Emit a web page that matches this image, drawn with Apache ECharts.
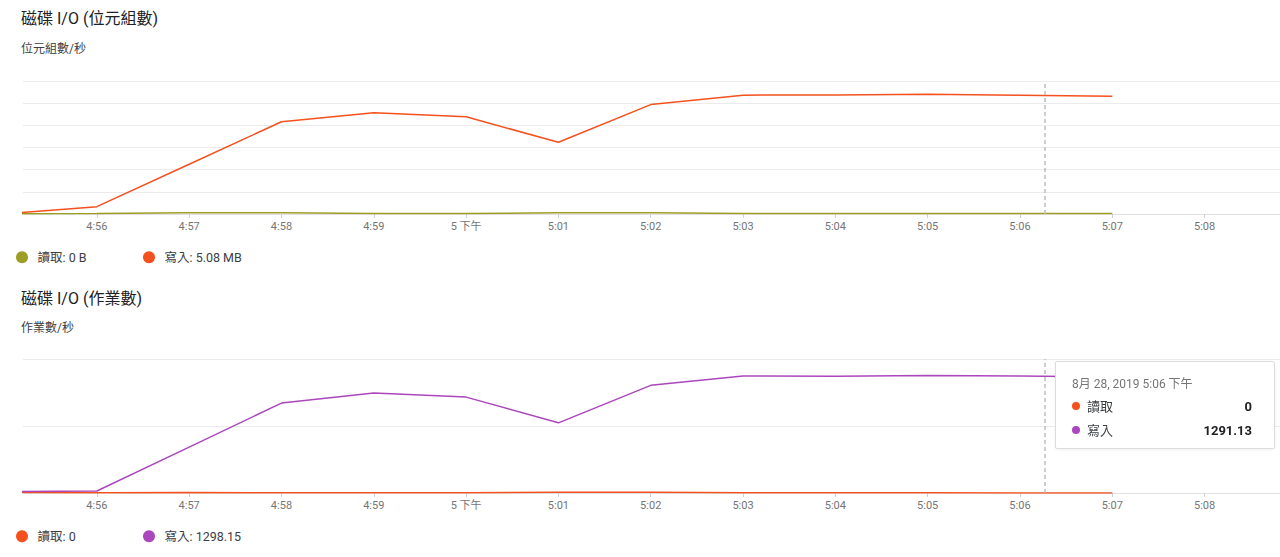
<!DOCTYPE html>
<html>
<head>
<meta charset="utf-8">
<script src="https://cdn.jsdelivr.net/npm/echarts@6/dist/echarts.min.js"></script>
<style>
html,body{margin:0;padding:0;background:#fff;}
#c{width:1280px;height:557px;}
</style>
</head>
<body>
<div id="c"></div>
<script>
// ---- data ----
var times = ['16:55','16:56','16:57','16:58','16:59','17:00','17:01','17:02','17:03','17:04','17:05','17:06','17:07'];
// chart 1: bytes/s (MB)
var bytesRead  = [0.01, 0.02, 0.05, 0.05, 0.02, 0.02, 0.05, 0.05, 0.02, 0.02, 0.02, 0.02, 0.02];
var bytesWrite = [0.01, 0.31, 2.11, 3.91, 4.29, 4.12, 3.04, 4.64, 5.04, 5.05, 5.08, 5.04, 4.99];
// chart 2: ops/s
var opsRead  = [5, 3, 6, 3, 2, 3, 9, 9, 3, 2, 2, 0, 1];
var opsWrite = [15, 22, 507, 993, 1104, 1059, 775, 1189, 1292, 1290, 1298.15, 1291.13, 1281];
var titles = ['磁碟 I/O (位元組數)', '磁碟 I/O (作業數)'];
var subtitles = ['位元組數/秒', '作業數/秒'];
var seriesNames = ['讀取', '寫入'];
var legendValues1 = ['0 B', '5.08 MB'];
var legendValues2 = ['0', '1298.15'];
var tooltipTitle = '8月 28, 2019 5:06 下午';
var tooltipIndex = 11;
var pointerTime = '17:06:16';
var axisStart = '16:55:12';
var axisEnd = '17:08:49';

// ---- helpers ----
function ts(hms){
  var p = hms.split(':').map(Number);
  return new Date(2019, 7, 28, p[0], p[1], p[2] || 0).getTime();
}
var tvals = times.map(ts);
function pairs(arr){ return arr.map(function(v,i){ return [tvals[i], v]; }); }
function fmtTime(v){
  var d = new Date(v);
  if (d.getSeconds() !== 0) return '';
  var h = d.getHours() % 12 || 12;
  var m = d.getMinutes();
  return m === 0 ? (h + ' 下午') : (h + ':' + (m < 10 ? '0' + m : m));
}
var FONT = 'Roboto, "Noto Sans CJK TC", sans-serif';
var C_OLIVE = '#9e9d24', C_ORANGE = '#f4511e', C_PURPLE = '#ab47bc';

function xAxisCfg(gi){
  return {
    type: 'time', gridIndex: gi, min: ts(axisStart), max: ts(axisEnd),
    minInterval: 60000, maxInterval: 60000,
    axisLine: {show: true, lineStyle: {color: '#e0e0e0', width: 1}},
    axisTick: {show: true, length: 4, lineStyle: {color: '#d0d0d0'}},
    axisLabel: {formatter: fmtTime, color: '#757575', fontSize: 11, fontFamily: FONT, margin: 7, hideOverlap: false},
    splitLine: {show: false}
  };
}
function yAxisCfg(gi, max, interval){
  return {
    type: 'value', gridIndex: gi, min: 0, max: max, interval: interval,
    axisLine: {show: false}, axisTick: {show: false}, axisLabel: {show: false},
    splitLine: {show: true, lineStyle: {color: '#ebebeb', width: 1}}
  };
}
var markLineCfg = {
  silent: true, symbol: ['none','none'], label: {show: false},
  lineStyle: {color: '#bdbdbd', type: [4, 3], width: 1.5},
  data: [{xAxis: ts(pointerTime)}],
  animation: false
};
function lineSeries(name, xi, data, color, withMark){
  var s = {
    name: name, type: 'line', xAxisIndex: xi, yAxisIndex: xi,
    data: pairs(data), showSymbol: false, symbol: 'none',
    lineStyle: {color: color, width: 1.5}, itemStyle: {color: color},
    emphasis: {disabled: true}
  };
  if (withMark) s.markLine = markLineCfg;
  return s;
}
function legendCfg(name, color, label, left, top){
  return {
    left: left, top: top, padding: 0, icon: 'circle', itemWidth: 21, itemHeight: 12,
    selectedMode: false,
    data: [{name: name, itemStyle: {color: color}}],
    formatter: function(){ return label; },
    textStyle: {fontSize: 12.5, color: '#3c4043', fontFamily: FONT}
  };
}

var chart = echarts.init(document.getElementById('c'), null, {renderer: 'svg'});
chart.setOption({
  animation: false,
  textStyle: {fontFamily: FONT},
  title: [
    {text: titles[0], left: 21, top: 10, padding: 0, textStyle: {fontSize: 16, fontWeight: 'normal', color: '#202124', fontFamily: FONT}},
    {text: subtitles[0], left: 21, top: 43, padding: 0, textStyle: {fontSize: 12, fontWeight: 'normal', color: '#3c4043', fontFamily: FONT}},
    {text: titles[1], left: 21, top: 290, padding: 0, textStyle: {fontSize: 16, fontWeight: 'normal', color: '#202124', fontFamily: FONT}},
    {text: subtitles[1], left: 21, top: 322, padding: 0, textStyle: {fontSize: 12, fontWeight: 'normal', color: '#3c4043', fontFamily: FONT}}
  ],
  grid: [
    {left: 23, right: 0, top: 81, height: 133},
    {left: 23, right: 0, top: 359, height: 134}
  ],
  xAxis: [xAxisCfg(0), xAxisCfg(1)],
  yAxis: [yAxisCfg(0, 5.64, 0.94), yAxisCfg(1, 1480, 740)],
  legend: [
    legendCfg(seriesNames[0], C_OLIVE, seriesNames[0] + ': ' + legendValues1[0], 16, 251),
    legendCfg(seriesNames[1], C_ORANGE, seriesNames[1] + ': ' + legendValues1[1], 143, 251),
    legendCfg(seriesNames[0], C_ORANGE, seriesNames[0] + ': ' + legendValues2[0], 16, 530),
    legendCfg(seriesNames[1], C_PURPLE, seriesNames[1] + ': ' + legendValues2[1], 143, 530)
  ],
  tooltip: {
    trigger: 'axis', triggerOn: 'none', alwaysShowContent: true, transitionDuration: 0,
    axisPointer: {type: 'line', lineStyle: {opacity: 0}},
    position: [1055, 361],
    backgroundColor: '#ffffff', borderColor: '#dadce0', borderWidth: 1,
    padding: [14, 22, 8, 16],
    extraCssText: 'width:220px;height:88px;box-sizing:border-box;border-radius:2px;box-shadow:0 1px 3px rgba(0,0,0,0.06);',
    formatter: function(){
      var i = tooltipIndex;
      function row(color, name, val){
        return '<div style="display:flex;align-items:center;height:24px;">' +
          '<span style="display:inline-block;width:8px;height:8px;border-radius:50%;background:' + color + ';margin-right:7px;"></span>' +
          '<span style="font-size:13px;color:#3c4043;">' + name + '</span>' +
          '<span style="margin-left:auto;font-size:13px;font-weight:bold;color:#202124;">' + val + '</span></div>';
      }
      return '<div style="font-family:' + FONT.replace(/"/g, "'") + ';">' +
        '<div style="font-size:12px;line-height:16px;color:#757575;margin-bottom:2px;">' + tooltipTitle + '</div>' +
        row(C_ORANGE, seriesNames[0], String(opsRead[i])) +
        row(C_PURPLE, seriesNames[1], String(opsWrite[i])) + '</div>';
    }
  },
  series: [
    lineSeries(seriesNames[0], 0, bytesRead, C_OLIVE, true),
    lineSeries(seriesNames[1], 0, bytesWrite, C_ORANGE, false),
    lineSeries(seriesNames[0], 1, opsRead, C_ORANGE, true),
    lineSeries(seriesNames[1], 1, opsWrite, C_PURPLE, false)
  ]
});
chart.dispatchAction({type: 'showTip', seriesIndex: 3, dataIndex: tooltipIndex});
</script>
</body>
</html>
